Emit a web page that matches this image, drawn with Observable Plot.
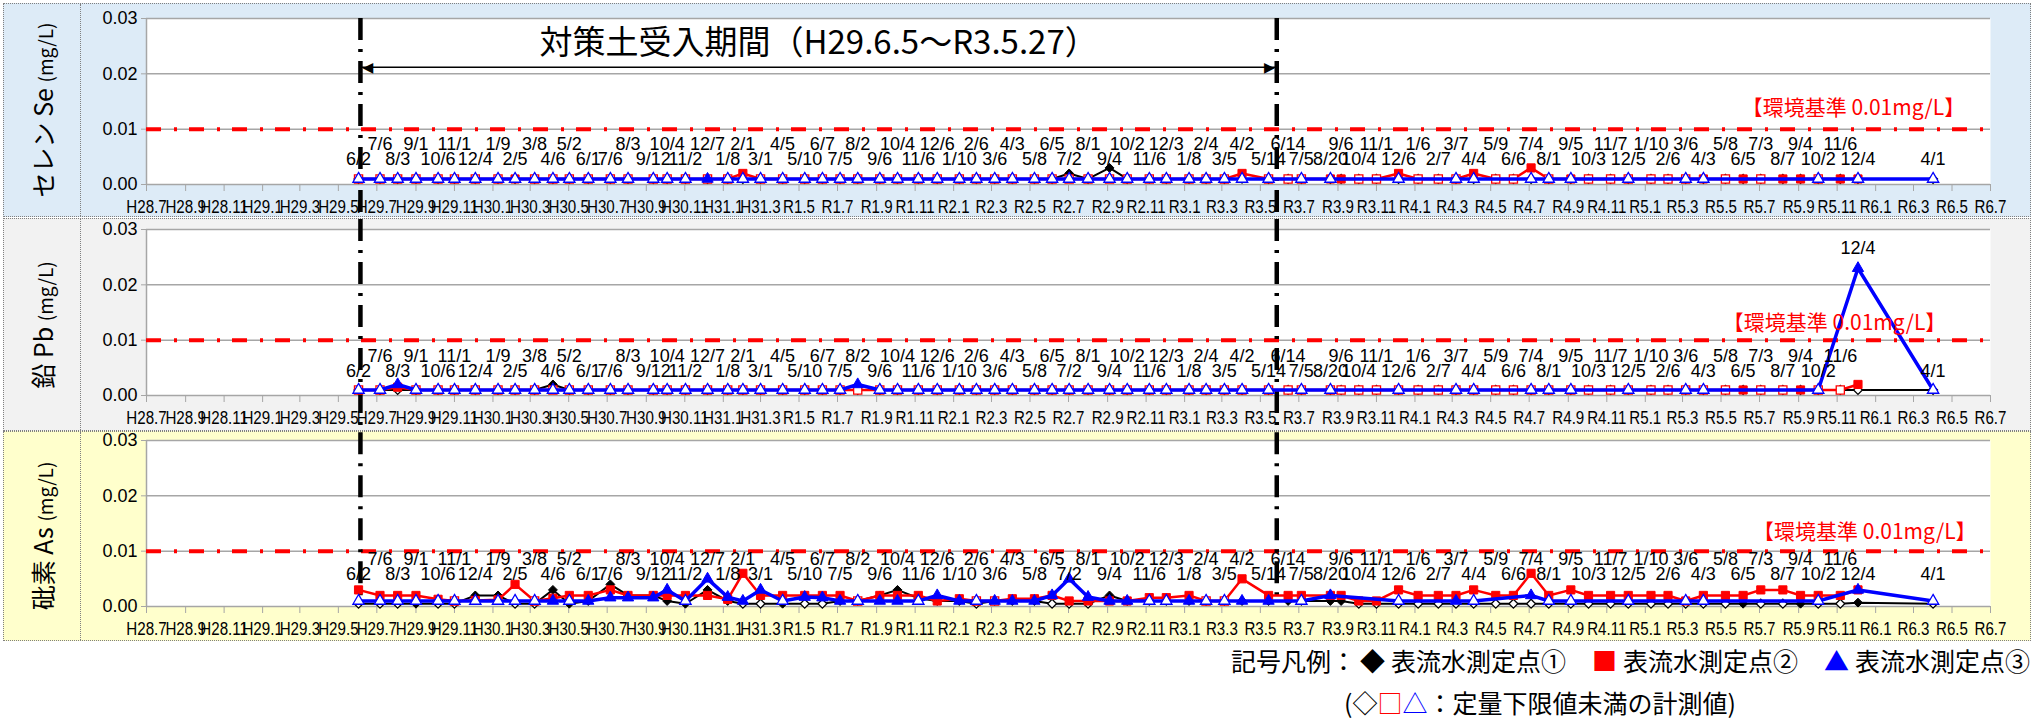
<!DOCTYPE html>
<html><head><meta charset="utf-8">
<script src="https://cdn.jsdelivr.net/npm/d3@7"></script>
<script src="https://cdn.jsdelivr.net/npm/@observablehq/plot@0.6"></script>
<style>
body{margin:0;background:#fff;font-family:"Noto Sans CJK JP",sans-serif;}
#wrap{position:relative;width:2036px;height:719px;overflow:hidden;}
.panel{position:absolute;left:3px;width:2028px;border:1px dotted #808080;box-sizing:border-box;}
.lab{position:absolute;left:0;top:0;bottom:0;width:77px;border-right:1px dotted #808080;box-sizing:border-box;}
.lab span{position:absolute;left:50%;top:50%;transform:translate(-50%,-50%) rotate(-90deg);white-space:nowrap;font-size:25px;color:#000;}
.lab small{font-size:19px;}
.chart{position:absolute;left:77px;top:0;}
#legend{position:absolute;right:6px;top:642px;font-size:25px;white-space:nowrap;}
#legend .g{margin-left:26px;margin-right:6px;}
#note{position:absolute;left:1344px;top:684px;font-size:25px;white-space:nowrap;}
</style></head>
<body><div id="wrap"></div>
<script>
// ---- data ----
const dates = [
"2017-06-02","2017-07-06","2017-08-03","2017-09-01","2017-10-06","2017-11-01","2017-12-04",
"2018-01-09","2018-02-05","2018-03-08","2018-04-06","2018-05-02","2018-06-01","2018-07-06","2018-08-03","2018-09-12","2018-10-04","2018-11-02","2018-12-07",
"2019-01-08","2019-02-01","2019-03-01","2019-04-05","2019-05-10","2019-06-07","2019-07-05","2019-08-02","2019-09-06","2019-10-04","2019-11-06","2019-12-06",
"2020-01-10","2020-02-06","2020-03-06","2020-04-03","2020-05-08","2020-06-05","2020-07-02","2020-08-01","2020-09-04","2020-10-02","2020-11-06","2020-12-03",
"2021-01-08","2021-02-04","2021-03-05","2021-04-02","2021-05-14","2021-06-14","2021-07-05","2021-08-20","2021-09-06","2021-10-04","2021-11-01","2021-12-06",
"2022-01-06","2022-02-07","2022-03-07","2022-04-04","2022-05-09","2022-06-06","2022-07-04","2022-08-01","2022-09-05","2022-10-03","2022-11-07","2022-12-05",
"2023-01-10","2023-02-06","2023-03-06","2023-04-03","2023-05-08","2023-06-05","2023-07-03","2023-08-07","2023-09-04","2023-10-02","2023-11-06","2023-12-04",
"2024-04-01"];
// dates whose label stays on the lower row instead of alternating
const labelRowBreaks = ["2018-07-06","2021-08-20","2024-04-01"];
const tickLabels = ["H28.7","H28.9","H28.11","H29.1","H29.3","H29.5","H29.7","H29.9","H29.11","H30.1","H30.3","H30.5","H30.7","H30.9","H30.11","H31.1","H31.3",
"R1.5","R1.7","R1.9","R1.11","R2.1","R2.3","R2.5","R2.7","R2.9","R2.11","R3.1","R3.3","R3.5","R3.7","R3.9","R3.11","R4.1","R4.3","R4.5","R4.7","R4.9","R4.11",
"R5.1","R5.3","R5.5","R5.7","R5.9","R5.11","R6.1","R6.3","R6.5","R6.7"];
const yTicks = [0, 0.01, 0.02, 0.03];
const standardValue = 0.01;
const standardLabel = "【環境基準 0.01mg/L】";
const periodStart = "2017-06-05", periodEnd = "2021-05-27";
const periodTitle = "対策土受入期間（H29.6.5～R3.5.27）";
const legendTitle = "記号凡例：";
const seriesNames = ["表流水測定点①","表流水測定点②","表流水測定点③"];
const seriesColors = ["#000000","#FF0000","#0000FF"];
const noteText = "：定量下限値未満の計測値";
// "<" = below quantification limit (open marker drawn at the limit), null = not measured
const L = "<";
const seP1 = [L,L,L,L,L,L,L,L,L,L, L,L,L,L,L,L,L,L,L,L, L,L,L,L,L,L,L,L,L,L, L,L,L,L,L,L,L,0.002,L,0.003,
 L,0.001,L,L,L,L,0.001,L,L,L, L,L,L,L,L,L,L,L,L,L, L,L,L,L,L,L,L,L,L,L, L,L,L,L,L,L,L,L,L,L];
const seP2 = [L,L,L,L,L,L,L,L,0.001,L, L,L,L,L,L,L,L,L,L,L, 0.002,L,L,L,L,L,L,L,L,L, L,L,L,L,L,L,L,L,L,L,
 L,L,L,L,L,L,0.002,L,L,L, 0.001,0.001,L,L,0.002,L,L,L,0.002,L, L,0.003,L,0.001,L,L,L,L,L,L, 0.001,L,0.001,L,0.001,0.001,L,0.001,0.001,null];
const seP3 = [L,L,L,L,L,L,L,L,L,L, L,L,L,L,L,L,L,L,0.001,L, L,L,L,L,L,L,L,L,L,L, L,L,L,L,L,L,L,L,L,L,
 L,L,L,L,L,L,L,L,null,L, L,null,null,null,L,null,null,L,L,null, null,L,L,L,null,null,L,null,null,L, L,null,null,null,null,null,L,null,L,L];
const pbP1 = [L,L,L,L,L,L,L,L,L,L, 0.002,L,L,L,L,L,L,L,L,L, L,L,L,L,L,L,L,L,L,L, L,L,L,L,L,L,L,L,L,L,
 L,L,L,L,L,L,L,L,L,L, L,L,L,L,L,L,L,L,L,L, L,L,L,L,L,L,L,L,L,L, L,L,L,L,L,L,L,L,L,L];
const pbP2 = [L,L,0.0015,L,L,L,L,L,L,L, L,L,L,L,L,L,L,L,L,L, L,L,L,L,L,L,L,L,L,L, L,L,L,L,L,L,L,L,L,L,
 L,L,L,L,L,L,L,L,L,L, L,L,L,L,L,L,L,L,L,L, L,L,L,L,L,L,L,L,L,L, L,L,0.001,L,L,0.001,L,L,0.002,null];
const pbP3 = [L,L,0.002,L,L,L,L,L,L,L, L,L,L,L,L,L,L,L,L,L, L,L,L,L,L,L,0.002,L,L,L, L,L,L,L,L,L,L,L,L,L,
 L,L,L,L,L,L,L,L,null,L, L,null,null,null,L,null,null,L,L,null, null,L,L,L,null,null,L,null,null,L, L,null,null,null,null,null,L,null,0.023,L];
const asP1 = [L,L,L,0.0005,L,L,0.002,0.002,L,L, 0.003,0.0005,0.001,0.004,0.002,0.002,0.001,0.0005,0.003,0.001,
 L,L,0.0005,L,L,0.001,0.001,0.002,0.003,0.0015, 0.001,0.001,L,0.001,0.001,0.001,L,L,L,0.002,
 0.001,0.001,0.001,0.001,0.001,0.001,0.001,0.001,0.001,0.001, 0.001,0.001,L,L,L,L,L,L,L,L,
 L,L,L,L,L,L,L,L,L,L, L,L,0.0005,L,L,0.0005,L,L,0.0007,L];
const asP2 = [0.003,0.002,0.002,0.002,0.0013,L,0.0011,0.0012,0.004,L, 0.0015,0.002,0.002,0.003,0.002,0.002,0.002,0.002,0.002,0.0013,
 0.006,0.002,0.002,0.002,0.002,0.002,L,0.002,0.002,0.002, 0.001,0.0014,L,L,0.0014,0.0014,0.002,0.001,0.001,0.001,
 0.001,0.0016,0.0016,0.002,L,L,0.005,0.002,0.002,0.002, 0.002,0.002,0.001,0.001,0.003,0.002,0.002,0.002,0.003,0.002,
 0.002,0.006,0.002,0.003,0.002,0.002,0.002,0.002,0.002,0.001, 0.002,0.002,0.002,0.003,0.003,0.002,0.002,0.002,0.003,null];
const asP3 = [L,L,L,L,L,L,L,L,L,L, 0.001,L,0.001,0.0016,0.0016,0.0016,0.003,L,0.005,0.0017,
 0.001,0.003,L,0.0017,0.0016,0.001,L,0.001,0.001,L, 0.002,0.001,L,0.001,0.001,0.001,0.002,0.005,0.0017,0.001,
 0.001,L,L,0.001,L,L,0.001,0.001,null,L, 0.002,null,null,null,L,null,null,0.001,L,null,
 null,0.002,L,L,null,null,L,null,null,L, L,null,null,null,null,null,L,null,0.003,L];

const panels = [
 {name:"セレン Se", unit:"(mg/L)", bg:"#DDEBF7", values:[seP1,seP2,seP3], loq:[0.001,0.001,0.001], labelBase:0.001,
  top:3, h:214, mt:14, mb:32, ruleTop:0.03, ruleBottom:-0.0058, stdEnd:"2024-05-22", stdY:0.0137, title:true},
 {name:"鉛 Pb", unit:"(mg/L)", bg:"#F2F2F2", values:[pbP1,pbP2,pbP3], loq:[0.001,0.001,0.001], labelBase:0.0007,
  top:218, h:213, mt:10, mb:35, ruleTop:0.0318, ruleBottom:-0.0063, stdEnd:"2024-04-22", stdY:0.013, title:false},
 {name:"砒素 As", unit:"(mg/L)", bg:"#FFFFCC", values:[asP1,asP2,asP3], loq:[0.0005,0.001,0.001], labelBase:0.0022,
  top:431, h:210, mt:8, mb:34, ruleTop:0.0314, ruleBottom:0.001, stdEnd:"2024-06-09", stdY:0.0134, title:false}
];

// ---- drawing ----
const parse = s => new Date(s + "T00:00:00Z");
const x0 = parse("2016-07-01"), x1 = parse("2024-07-01");
const tickDates = d3.utcMonth.every(2).range(x0, d3.utcDay.offset(x1, 1));
const tickMap = new Map(tickDates.map((d, i) => [+d, tickLabels[i]]));
const gray = "#A6A6A6";
const sans = '"Liberation Sans",sans-serif';
const jp = '"Noto Sans CJK JP",sans-serif';
const symbols = ["diamond2","square","triangle"];
const radii = [4, 4.6, 4.2];
const lineW = [2, 2.5, 3.5];
const parsed = dates.map(parse);
const breakSet = new Set(labelRowBreaks);
const wrap = document.getElementById("wrap");

function condense(svg, ariaLabel, factor) {
  svg.querySelectorAll(`g[aria-label="${ariaLabel}"] text`).forEach(t => {
    const w = t.getComputedTextLength();
    if (w > 0) { t.setAttribute("textLength", (w * factor).toFixed(1)); t.setAttribute("lengthAdjust", "spacingAndGlyphs"); }
  });
}

panels.forEach(p => {
  const recs = [];
  p.values.forEach((arr, s) => arr.forEach((v, i) => {
    if (v === null || v === undefined) return;
    recs.push({s, i, date: parsed[i], y: v === L ? p.loq[s] : v, filled: v !== L});
  }));
  let prevHigh = true;
  const labels = parsed.map((d, i) => {
    const peak = d3.max(recs.filter(r => r.i === i), r => r.y);
    const high = !prevHigh && !breakSet.has(dates[i]);
    prevHigh = high;
    return {date: d, y: peak > standardValue ? peak : p.labelBase, text: (d.getUTCMonth() + 1) + "/" + d.getUTCDate(), high};
  });
  const seriesMarks = [];
  [0, 1, 2].forEach(s => {
    const r = recs.filter(d => d.s === s);
    seriesMarks.push(Plot.line(r, {x: "date", y: "y", stroke: seriesColors[s], strokeWidth: lineW[s]}));
    seriesMarks.push(Plot.dot(r.filter(d => !d.filled), {x: "date", y: "y", symbol: symbols[s], r: radii[s], fill: "white", stroke: seriesColors[s], strokeWidth: 1.3}));
    seriesMarks.push(Plot.dot(r.filter(d => d.filled), {x: "date", y: "y", symbol: symbols[s], r: radii[s], fill: seriesColors[s], stroke: seriesColors[s], strokeWidth: 1}));
  });
  const ps = parse(periodStart), pe = parse(periodEnd);
  const extra = p.title ? [
    Plot.ruleY([0.0212], {x1: () => ps, x2: () => pe, stroke: "black", strokeWidth: 1.5}),
    Plot.text(["◀"], {x: [ps], y: [0.0212], text: d => d, textAnchor: "start", dx: 2, fontSize: 14, fill: "black", fontFamily: '"DejaVu Sans",sans-serif'}),
    Plot.text(["▶"], {x: [pe], y: [0.0212], text: d => d, textAnchor: "end", dx: -2, fontSize: 14, fill: "black", fontFamily: '"DejaVu Sans",sans-serif'}),
    Plot.text([periodTitle], {x: [new Date((+ps + +pe) / 2)], y: [0.0255], text: d => d, fontSize: 33, fill: "black", fontFamily: jp})
  ] : [];
  const chart = Plot.plot({
    width: 1949, height: p.h - 2,
    marginLeft: 65, marginRight: 40, marginTop: p.mt, marginBottom: p.mb,
    x: {type: "utc", domain: [x0, x1]},
    y: {domain: [0, 0.03]},
    style: {background: "transparent", fontFamily: sans, fontSize: "18px", overflow: "visible", color: "black"},
    marks: [
      Plot.frame({fill: "white", stroke: "none"}),
      Plot.ruleY(yTicks.slice(1), {stroke: gray, strokeWidth: 1.5}),
      Plot.ruleY([0], {stroke: gray, strokeWidth: 1.5}),
      Plot.ruleX([x0], {y1: 0, y2: 0.03, stroke: gray, strokeWidth: 1.5}),
      Plot.ruleY([standardValue], {stroke: "#FF0000", strokeWidth: 4, strokeDasharray: "15,13,3,12"}),
      Plot.ruleX([ps, pe], {y1: p.ruleTop, y2: p.ruleBottom, stroke: "black", strokeWidth: 4.5, strokeDasharray: "22,9,3,9"}),
      Plot.axisX({ticks: tickDates, tickFormat: d => tickMap.get(+d), tickSize: 7, tickPadding: 9, stroke: gray, fill: "black", fontSize: 18, fontFamily: sans, label: null}),
      Plot.axisY({ticks: yTicks, tickFormat: d3.format(".2f"), tickSize: 5, tickPadding: 4, stroke: gray, fill: "black", fontSize: 18, label: null}),
      ...seriesMarks,
      Plot.text(labels.filter(l => !l.high), {x: "date", y: "y", text: "text", dy: -20, fontSize: 18, fontFamily: sans, fill: "black", ariaLabel: "date-label"}),
      Plot.text(labels.filter(l => l.high), {x: "date", y: "y", text: "text", dy: -35, fontSize: 18, fontFamily: sans, fill: "black", ariaLabel: "date-label"}),
      Plot.text([standardLabel], {x: [parse(p.stdEnd)], y: [p.stdY], text: d => d, textAnchor: "end", fontSize: 21, fill: "#FF0000", fontFamily: jp}),
      ...extra
    ]
  });
  const div = document.createElement("div");
  div.className = "panel";
  div.style.top = p.top + "px";
  div.style.height = p.h + "px";
  div.style.background = p.bg;
  const lab = document.createElement("div");
  lab.className = "lab";
  lab.innerHTML = `<span>${p.name} <small>${p.unit}</small></span>`;
  div.appendChild(lab);
  const c = document.createElement("div");
  c.className = "chart";
  c.appendChild(chart);
  div.appendChild(c);
  wrap.appendChild(div);
  condense(chart, "x-axis tick label", 0.84);
  condense(chart, "date-label", 0.86);
});

const legend = document.createElement("div");
legend.id = "legend";
const glyphs = ["◆","■","▲"];
legend.innerHTML = legendTitle + seriesNames.map((n, i) =>
  `<span class="g" style="color:${seriesColors[i]}${i === 0 ? ";margin-left:4px" : ""}">${glyphs[i]}</span>${n}`).join("");
wrap.appendChild(legend);
const note = document.createElement("div");
note.id = "note";
const openGlyphs = ["◇","□","△"];
note.innerHTML = "(" + openGlyphs.map((g, i) => `<span style="color:${seriesColors[i]}">${g}</span>`).join("") + noteText + ")";
wrap.appendChild(note);
</script>
</body></html>
